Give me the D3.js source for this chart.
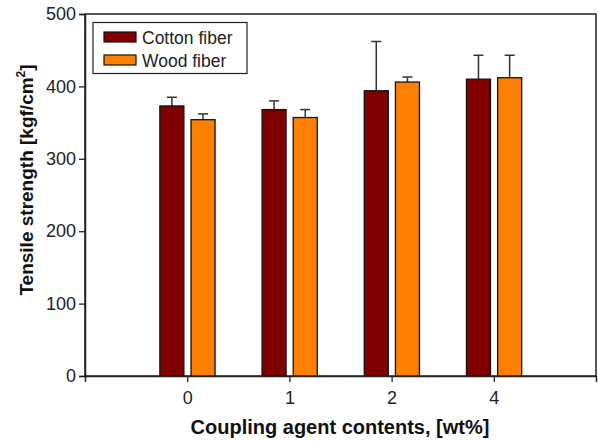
<!DOCTYPE html>
<html>
<head>
<style>
body { margin: 0; background: #fff; }
svg { font-family: Arial, "Liberation Sans", sans-serif; }
</style>
</head>
<body>
<svg id="chart" width="598" height="442"></svg>
<script src="https://d3js.org/d3.v7.min.js"></script>
<script>
// data
const categories = ["0", "1", "2", "4"];
const seriesNames = ["Cotton fiber", "Wood fiber"];
const cottonValues = [373, 368, 394, 410];
const cottonErrors = [12, 12, 68, 33];
const woodValues = [354, 357, 406, 412];
const woodErrors = [8, 11, 7, 31];
const yTicks = [0, 100, 200, 300, 400, 500];
const colors = ["#800000", "#ff8000"];

const margin = {left: 85, top: 14, right: 2, bottom: 66};
const width = 598, height = 442;
const svg = d3.select("#chart");

const x = d3.scaleLinear().domain([0, categories.length + 1]).range([margin.left, width - margin.right]);
const y = d3.scaleLinear().domain([0, 500]).range([height - margin.bottom, margin.top]);
const unit = x(1) - x(0);
const barW = 0.235 * unit;
const offsets = [-0.15, 0.155];

const series = [
    {name: seriesNames[0], values: cottonValues, errors: cottonErrors, color: colors[0]},
    {name: seriesNames[1], values: woodValues, errors: woodErrors, color: colors[1]}
];

// frame
svg.append("rect")
    .attr("x", x(0)).attr("y", y(500))
    .attr("width", x(5) - x(0)).attr("height", y(0) - y(500))
    .attr("fill", "none").attr("stroke", "#222").attr("stroke-width", 1.5);

// error bars first, bars on top
series.forEach((s, si) => {
    const g = svg.append("g");
    s.values.forEach((v, i) => {
        const cx = x(i + 1 + offsets[si]);
        const top = y(v + s.errors[i]);
        g.append("line").attr("x1", cx).attr("x2", cx)
            .attr("y1", y(v)).attr("y2", top)
            .attr("stroke", "#333").attr("stroke-width", 1.5);
        g.append("line").attr("x1", cx - 5).attr("x2", cx + 5)
            .attr("y1", top).attr("y2", top)
            .attr("stroke", "#333").attr("stroke-width", 1.5);
    });
    g.selectAll("rect").data(s.values).enter().append("rect")
        .attr("x", (d, i) => x(i + 1 + offsets[si]) - barW / 2)
        .attr("y", d => y(d))
        .attr("width", barW)
        .attr("height", d => y(0) - y(d))
        .attr("fill", s.color)
        .attr("stroke", "#111").attr("stroke-width", 1.3);
});

// axes
const yAxis = svg.append("g")
    .attr("transform", `translate(${x(0)},0)`)
    .call(d3.axisLeft(y).tickValues(yTicks).tickSize(6).tickPadding(3));
const xAxis = svg.append("g")
    .attr("transform", `translate(0,${y(0)})`)
    .call(d3.axisBottom(x).tickValues(d3.range(1, categories.length + 1))
        .tickFormat((d) => categories[d - 1]).tickSize(6).tickPadding(9));
[yAxis, xAxis].forEach(a => {
    a.select(".domain").attr("stroke", "#222").attr("stroke-width", 1.5);
    a.selectAll(".tick line").attr("stroke", "#222").attr("stroke-width", 1.3);
    a.selectAll("text").attr("font-size", 18).attr("fill", "#222")
        .attr("font-family", "Arial, 'Liberation Sans', sans-serif");
});

// axis titles
const yTitle = svg.append("text")
    .attr("transform", "translate(33,180) rotate(-90)")
    .attr("text-anchor", "middle")
    .attr("font-size", 19).attr("font-weight", "bold").attr("fill", "#111");
yTitle.append("tspan").text("Tensile strength [kgf/cm");
yTitle.append("tspan").attr("font-size", 12).attr("dy", -8).text("2");
yTitle.append("tspan").attr("dy", 8).text("]");

svg.append("text")
    .attr("x", 340).attr("y", 434)
    .attr("text-anchor", "middle")
    .attr("font-size", 20).attr("font-weight", "bold").attr("fill", "#111")
    .text("Coupling agent contents, [wt%]");

// legend
const legend = svg.append("g");
legend.append("rect")
    .attr("x", 93).attr("y", 22.5).attr("width", 154).attr("height", 51)
    .attr("fill", "#fff").attr("stroke", "#222").attr("stroke-width", 1.2);
series.forEach((s, si) => {
    const ly = 32 + si * 23;
    legend.append("rect")
        .attr("x", 104).attr("y", ly).attr("width", 32).attr("height", 10)
        .attr("fill", s.color).attr("stroke", "#111").attr("stroke-width", 1.2);
    legend.append("text")
        .attr("x", 142).attr("y", ly + 12)
        .attr("font-size", 17.5).attr("fill", "#222")
        .text(s.name);
});
</script>
</body>
</html>
